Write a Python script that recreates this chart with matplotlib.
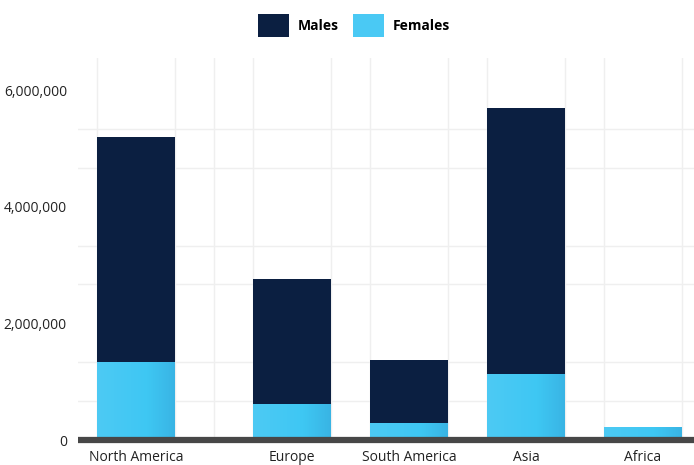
import numpy as np
import matplotlib
matplotlib.use("Agg")
import matplotlib.pyplot as plt
from matplotlib.colors import LinearSegmentedColormap
from matplotlib.patches import Patch
from matplotlib.ticker import FixedLocator, MultipleLocator

# ---- data ----
regions = ["North America", "Europe", "South America", "Asia", "Africa"]
females = [1340000, 617000, 290000, 1130000, 220000]
males = [3850000, 2150000, 1080000, 4570000, 0]
ytick_values = [0, 2000000, 4000000, 6000000]

# ---- layout ----
positions = [1, 5, 8, 11, 14]
bar_width = 2.0
male_color = "#0b1f41"
plt.rcParams['font.family'] = ['Open Sans', 'DejaVu Sans']

fig = plt.figure(figsize=(6.94, 4.65), dpi=100)
ax = fig.add_axes([78 / 694, (465 - 440) / 465, 1 - 78 / 694, (440 - 58) / 465])

# grid
ax.xaxis.set_minor_locator(FixedLocator(np.arange(0, 16, 1)))
ax.yaxis.set_minor_locator(MultipleLocator(2000000 / 3))
ax.grid(which="minor", color="#efefef", linewidth=1.0)
ax.set_axisbelow(True)
ax.tick_params(which="minor", length=0)

cmap = LinearSegmentedColormap.from_list(
    "fem", [(0, "#4dcaf4"), (0.65, "#3ec7f3"), (1.0, "#39b4e4")])
grad = np.linspace(0, 1, 256).reshape(1, -1)

for p, f, m in zip(positions, females, males):
    x0 = p - bar_width / 2
    ax.imshow(grad, cmap=cmap, extent=[x0, x0 + bar_width, 0, f],
              aspect="auto", origin="lower", zorder=2, interpolation="bilinear")
    if m > 0:
        ax.bar(p, m, bottom=f, width=bar_width, color=male_color, zorder=2,
               linewidth=0)

ax.set_xlim(-0.49, 15.31)
ax.set_ylim(0, 6550000)

ax.axhline(0, color="#474747", linewidth=4.5, zorder=3, clip_on=False,
           solid_capstyle="butt")

for s in ax.spines.values():
    s.set_visible(False)

ax.set_xticks(positions)
ax.set_xticklabels(regions, fontsize=10, color="#222222")
ax.set_yticks(ytick_values)
ax.set_yticklabels([f"{v:,}" for v in ytick_values], fontsize=10, color="#222222")
ax.tick_params(which="major", length=0)
ax.tick_params(axis="x", pad=7)
ax.tick_params(axis="y", pad=8)

handles = [Patch(facecolor=male_color, label="Males"),
           Patch(facecolor="#4ac9f4", label="Females")]
fig.legend(handles=handles, loc="center", bbox_to_anchor=(354 / 694, 1 - 25.5 / 465),
           ncol=2, frameon=False, handlelength=2.23, handleheight=2.23,
           handletextpad=0.65, columnspacing=1.0, borderpad=0,
           prop={"weight": "bold", "size": 10})

fig.savefig("out.png", dpi=100, facecolor="white")
